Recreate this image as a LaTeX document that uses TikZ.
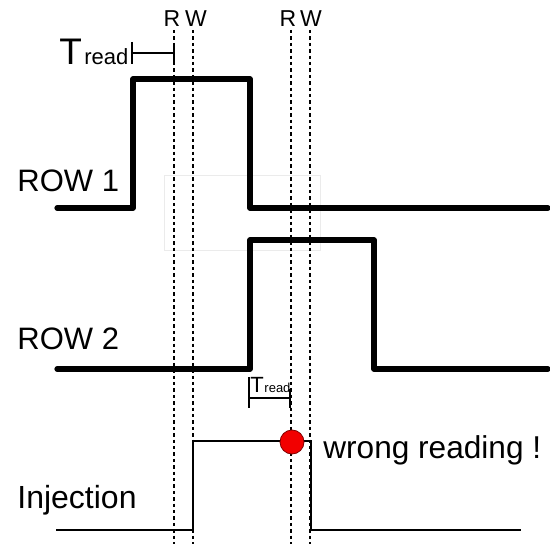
\documentclass[tikz,border=0pt]{standalone}
\usepackage{fontspec}
\setmainfont{Liberation Sans}
\begin{document}
\begin{tikzpicture}[x=0.5pt,y=-0.5pt,
  rowsig/.style={line width=2.6pt,line join=round,line cap=round},
  injsig/.style={line width=1.3pt,line join=miter},
  guide/.style={line width=0.6pt,dash pattern=on 1.7pt off 1.5pt},
  bracket/.style={line width=0.6pt},
  lbl/.style={inner sep=0pt,anchor=base west},
  rwlbl/.style={inner sep=0pt,anchor=base,font=\fontsize{11.5}{13}\selectfont}]
\useasboundingbox (0,0) rectangle (550,544);
% faint artifact box
\draw[black!8,line width=0.4pt] (164,175) rectangle (320,250);
% guide lines
\foreach \x in {174,193,291,310}{\draw[guide] (\x,30) -- (\x,544);}
\node[rwlbl] (r1) at (172,27) {R};
\node[rwlbl] (w1) at (196,27) {W};
\node[rwlbl] (r2) at (288,27) {R};
\node[rwlbl] (w2) at (311,27) {W};
% T read top
\node[lbl] (tr1) at (59,65) {\fontsize{18.5}{20}\selectfont T\kern1.2pt\fontsize{11}{12}\selectfont read};
\coordinate (b1l) at (132,53);
\coordinate (b1r) at (174,53);
\draw[bracket] (b1l) -- (b1r);
\draw[bracket] (132,42) -- (132,64);
\draw[bracket] (174,45) -- (174,62);
% ROW 1
\node[lbl] (row1) at (17,192) {\fontsize{15.5}{18}\selectfont ROW 1};
\draw[rowsig] (57,208) -- (133,208) -- (133,79) -- (250,79) -- (250,208) -- (548,208);
% ROW 2
\node[lbl] (row2) at (17,350) {\fontsize{15.5}{18}\selectfont ROW 2};
\draw[rowsig] (57,369) -- (250,369) -- (250,240) -- (374,240) -- (374,369) -- (548,369);
% T read bottom
\node[lbl] (tr2) at (250,393) {\fontsize{11}{12}\selectfont T\kern0.3pt\fontsize{6.5}{8}\selectfont read};
\coordinate (b2l) at (249,398);
\coordinate (b2r) at (290,398);
\draw[bracket] (b2l) -- (b2r);
\draw[bracket] (249,377) -- (249,408);
\draw[bracket] (290,389) -- (290,408);
% Injection
\node[lbl] (inj) at (17,508) {\fontsize{16}{18}\selectfont Injection};
\draw[injsig] (56,530) -- (193,530) -- (193,441) -- (311,441) -- (311,530) -- (521,530);
\node[circle,fill=red!95!black,draw=red!50!black,line width=0.4pt,minimum size=12pt,inner sep=0pt] (dot) at (292,442) {};
\node[lbl] (wr) at (323,458) {\fontsize{15.8}{18}\selectfont wrong reading !};
\end{tikzpicture}
\end{document}
